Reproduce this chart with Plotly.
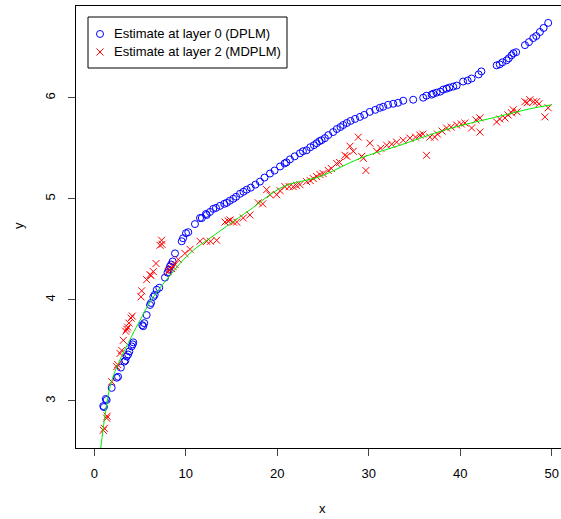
import plotly.graph_objects as go

# ---- data ----
blue_x = [0.98, 1.05, 1.25, 1.35, 1.9, 2.45, 2.6, 2.9, 3.28, 3.4, 3.54, 3.7, 3.83, 4.08, 4.2, 4.26,
          5.24, 5.35, 5.46, 5.72, 6.09, 6.2, 6.45, 6.6, 6.82, 7.1, 7.72, 8.0, 8.15, 8.27, 8.4, 8.56,
          8.82, 9.55, 9.7, 10.02, 10.27, 11.0, 11.55, 11.75, 12.2, 12.28, 12.64, 13.0, 13.3, 13.73,
          14.2, 14.47, 14.8, 15.19, 15.5, 15.92, 16.3, 16.65, 17.1, 17.6, 18.1, 18.6, 19.2, 19.7,
          20.3, 20.8, 21.0, 21.38, 21.9, 22.47, 22.8, 23.2, 23.6, 24.0, 24.3, 24.6, 24.84, 25.2,
          25.57, 26.1, 26.5, 26.9, 27.2, 27.6, 28.0, 28.5, 29.03, 29.5, 30.1, 30.7, 31.2, 31.57,
          32.1, 32.67, 33.2, 33.76, 34.85, 35.94, 36.3, 36.86, 37.04, 37.4, 37.8, 38.13, 38.5,
          38.8, 39.22, 39.6, 40.3, 40.8, 41.23, 42.0, 42.3, 43.97, 44.3, 44.6, 45.06, 45.3, 45.6,
          45.8, 46.1, 47.06, 47.5, 47.97, 48.3, 48.7, 49.1, 49.6]
blue_y = [2.95, 2.94, 3.02, 3.01, 3.13, 3.23, 3.24, 3.33, 3.39, 3.40, 3.44, 3.46, 3.49, 3.54, 3.56, 3.58,
          3.75, 3.74, 3.77, 3.85, 3.95, 3.97, 4.03, 4.05, 4.10, 4.12, 4.22, 4.27, 4.30, 4.33, 4.35, 4.38,
          4.46, 4.58, 4.61, 4.66, 4.67, 4.75, 4.81, 4.81, 4.85, 4.84, 4.87, 4.90, 4.91, 4.93,
          4.95, 4.96, 4.98, 5.00, 5.02, 5.05, 5.07, 5.09, 5.11, 5.14, 5.17, 5.21, 5.25, 5.28,
          5.32, 5.35, 5.36, 5.39, 5.42, 5.45, 5.47, 5.48, 5.51, 5.53, 5.55, 5.57, 5.58, 5.60,
          5.63, 5.66, 5.69, 5.71, 5.73, 5.75, 5.77, 5.79, 5.81, 5.83, 5.86, 5.88, 5.90, 5.91,
          5.93, 5.94, 5.95, 5.97, 5.98, 6.00, 6.02, 6.03, 6.04, 6.05, 6.06, 6.08, 6.09,
          6.10, 6.11, 6.12, 6.16, 6.17, 6.19, 6.23, 6.26, 6.32, 6.33, 6.35, 6.37, 6.39, 6.42,
          6.44, 6.45, 6.52, 6.55, 6.59, 6.61, 6.65, 6.69, 6.74]

red_x = [0.98, 1.1, 1.35, 1.4, 1.9, 2.45, 2.56, 2.81, 3.0, 3.17, 3.43, 3.55, 3.65, 3.79, 4.01, 4.15,
         5.1, 5.18, 5.72, 6.09, 6.2, 6.45, 6.74, 7.18, 7.36, 7.4, 8.08, 8.2, 8.45, 8.6, 8.82, 9.18,
         9.9, 10.46, 11.55, 12.28, 12.7, 13.37, 14.28, 14.64, 14.83, 15.2, 15.56, 16.28, 17.0,
         17.92, 18.4, 18.83, 19.2, 19.93, 20.3, 20.83, 21.3, 21.74, 22.1, 22.47, 23.2, 23.6, 23.93,
         24.3, 24.66, 25.0, 25.57, 25.9, 26.48, 26.8, 27.39, 27.6, 27.94, 28.3, 28.85, 29.22, 29.4,
         29.68, 30.12, 30.85, 31.3, 31.95, 32.5, 33.04, 33.76, 34.49, 35.1, 35.58, 35.9, 36.31,
         36.67, 37.2, 37.5, 38.0, 38.5, 39.0, 39.6, 40.1, 40.5, 41.23, 41.7, 42.14, 42.14, 43.97,
         44.3, 44.87, 45.2, 45.6, 45.78, 46.2, 47.06, 47.3, 47.6, 48.0, 48.33, 48.6, 49.24, 49.6]
red_y = [2.71, 2.73, 2.83, 2.85, 3.19, 3.34, 3.36, 3.47, 3.50, 3.60, 3.69, 3.71, 3.73, 3.77, 3.82, 3.84,
         4.03, 4.09, 4.20, 4.25, 4.24, 4.28, 4.36, 4.54, 4.59, 4.55, 4.28, 4.30, 4.31, 4.33, 4.35, 4.40,
         4.46, 4.50, 4.58, 4.58, 4.58, 4.59, 4.77, 4.78, 4.79, 4.77, 4.77, 4.81, 4.84,
         4.96, 4.95, 5.09, 5.04, 5.04, 5.08, 5.12, 5.12, 5.12, 5.13, 5.14, 5.17, 5.18, 5.20,
         5.22, 5.24, 5.25, 5.28, 5.30, 5.35, 5.36, 5.43, 5.42, 5.52, 5.47, 5.61, 5.42, 5.40,
         5.28, 5.55, 5.47, 5.50, 5.53, 5.54, 5.56, 5.58, 5.60, 5.61, 5.63, 5.64, 5.43,
         5.61, 5.61, 5.64, 5.67, 5.70, 5.71, 5.73, 5.74, 5.75, 5.70, 5.78, 5.66, 5.80, 5.76,
         5.79, 5.80, 5.83, 5.85, 5.88, 5.86, 5.96, 5.95, 5.98, 5.96, 5.96, 5.94, 5.81, 5.90]

green_x = [0.7, 1.72, 2.62, 4.08, 5.0, 6.09, 7.36, 8.27, 9.36, 10.8, 12.64, 14.64, 17.0, 20.65,
           24.66, 29.03, 33.4, 37.58, 40.3, 43.97, 47.6, 49.97]
green_y = [2.53, 3.14, 3.37, 3.64, 3.80, 3.98, 4.14, 4.24, 4.36, 4.49, 4.61, 4.74, 4.89, 5.12,
           5.22, 5.40, 5.53, 5.66, 5.73, 5.81, 5.89, 5.93]

x_ticks = [0, 10, 20, 30, 40, 50]
y_ticks = [3, 4, 5, 6]
legend_labels = ["Estimate at layer 0 (DPLM)", "Estimate at layer 2 (MDPLM)"]

FONT = "Liberation Sans, Arial, Helvetica, sans-serif"

fig = go.Figure()
fig.add_trace(go.Scatter(x=blue_x, y=blue_y, mode="markers", showlegend=False,
                         marker=dict(symbol="circle-open", size=7, color="#0000ff",
                                     line=dict(width=1, color="#0000ff"))))
fig.add_trace(go.Scatter(x=red_x, y=red_y, mode="markers", showlegend=False,
                         marker=dict(symbol="x-thin-open", size=7, color="#ff0000",
                                     line=dict(width=1, color="#ff0000"))))
fig.add_trace(go.Scatter(x=green_x, y=green_y, mode="lines", showlegend=False,
                         line=dict(color="#00ee00", width=1, shape="spline")))

# manual legend (overlay axes in plot-area fraction coordinates)
fig.add_trace(go.Scatter(x=[0.0495, 0.0495], y=[0.9367, 0.896], mode="markers",
                         xaxis="x2", yaxis="y2", showlegend=False, hoverinfo="skip",
                         marker=dict(symbol=["circle-open", "x-thin-open"], size=7,
                                     color=["#0000ff", "#ff0000"],
                                     line=dict(width=1, color=["#0000ff", "#ff0000"]))))

W, H = 561, 519
L, R, T, B = 76, 0, 6, 71
pw, ph = W - L - R, H - T - B

fig.update_layout(
    width=W, height=H,
    margin=dict(l=L, r=R, t=T, b=B, pad=0),
    paper_bgcolor="white", plot_bgcolor="white",
    font=dict(family=FONT, size=13, color="black"),
    xaxis=dict(range=[-2.0, 51.0], tickvals=x_ticks, ticks="outside", ticklen=7,
               tickcolor="#444", tickwidth=1, showgrid=False, zeroline=False,
               showline=True, linecolor="black", linewidth=1, mirror=True,
               tickfont=dict(size=13), ticklabelstandoff=6),
    yaxis=dict(range=[2.535, 6.907], tickvals=y_ticks, ticks="outside", ticklen=7,
               tickcolor="#444", tickwidth=1, showgrid=False, zeroline=False,
               showline=True, linecolor="black", linewidth=1, mirror=False,
               tickangle=-90, tickfont=dict(size=13), ticklabelstandoff=8),
    xaxis2=dict(range=[0, 1], overlaying="x", visible=False, fixedrange=True),
    yaxis2=dict(range=[0, 1], overlaying="y", visible=False, fixedrange=True),
    shapes=[dict(type="rect", xref="paper", yref="paper",
                 x0=(88 - L) / pw, x1=(287 - L) / pw,
                 y0=1 - (68 - T) / ph, y1=1 - (17 - T) / ph,
                 line=dict(color="black", width=1), fillcolor="rgba(0,0,0,0)")],
    annotations=[
        dict(text=legend_labels[0], xref="paper", yref="paper", x=(112 - L) / pw,
             y=0.9367, xanchor="left", yanchor="middle", showarrow=False, font=dict(size=13)),
        dict(text=legend_labels[1], xref="paper", yref="paper", x=(112 - L) / pw,
             y=0.896, xanchor="left", yanchor="middle", showarrow=False, font=dict(size=13)),
        dict(text="x", xref="paper", yref="paper", x=(322 - L) / pw, y=-(508 - 448) / ph,
             xanchor="center", yanchor="middle", showarrow=False, font=dict(size=13)),
        dict(text="y", xref="paper", yref="paper", x=-(76 - 18) / pw, y=1 - (226 - T) / ph,
             xanchor="center", yanchor="middle", showarrow=False, textangle=-90,
             font=dict(size=13)),
    ],
)

fig.write_html("out.html")
